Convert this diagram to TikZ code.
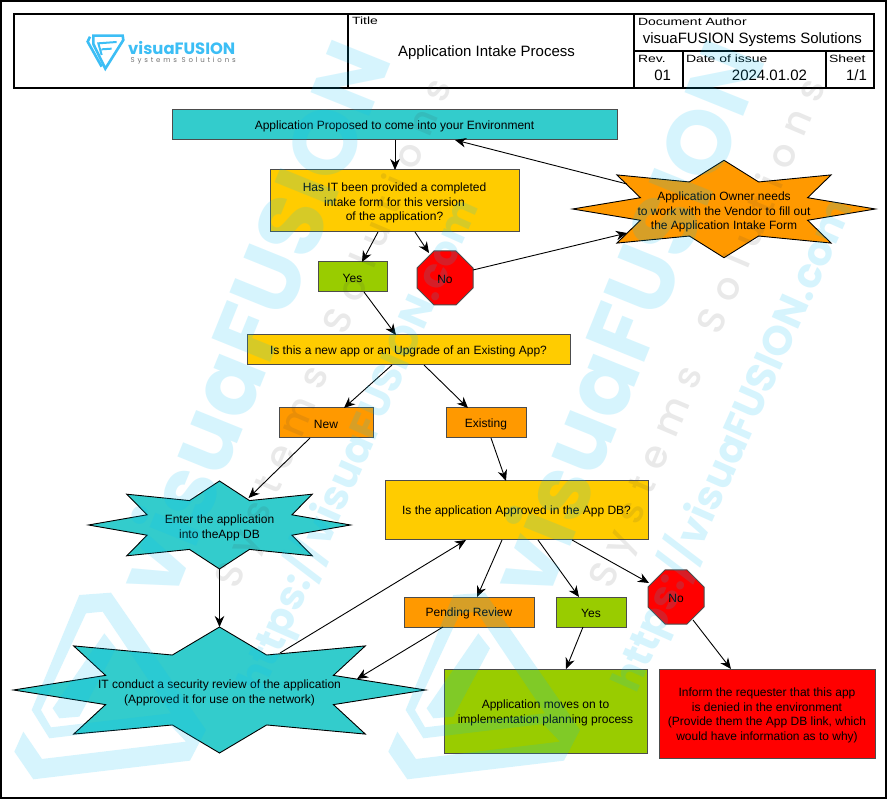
\documentclass[tikz,border=0pt]{standalone}
\usepackage{fontspec}
\usetikzlibrary{arrows.meta,shapes.misc}
\setmainfont{Liberation Sans}
\newfontfamily\wmfont{Poppins}
\newfontfamily\wmmid{Poppins Medium}
\definecolor{teal}{HTML}{33CCCC}
\definecolor{gold}{HTML}{FFCC00}
\definecolor{lime}{HTML}{99CC00}
\definecolor{amber}{HTML}{FF9900}
\definecolor{wmblue}{HTML}{00C0F8}
\definecolor{logoblue}{HTML}{3CBEF5}
\tikzset{
  boxnode/.style={draw=black!70,line width=1pt,outer sep=0pt,inner sep=2pt,align=center,font=\fontsize{12}{14.7}\selectfont,execute at begin node={\rule{0pt}{10.5pt}}},
  octnode/.style={boxnode,chamfered rectangle,chamfered rectangle xsep=16pt,chamfered rectangle ysep=16pt,fill=red,minimum width=56pt,minimum height=54pt},
  burstline/.style={draw=black,line width=0.9pt,line join=miter},
  bursttext/.style={outer sep=0pt,inner sep=0pt,align=center,font=\fontsize{12}{14.7}\selectfont},
  conn/.style={draw=black,line width=0.9pt,-{Stealth[length=11pt,width=9.5pt,inset=3.5pt]}},
  tblabel/.style={inner sep=0pt,outer sep=0pt,font=\fontsize{10.5}{12}\selectfont},
  tbvalue/.style={inner sep=0pt,outer sep=0pt,font=\fontsize{15}{16}\selectfont},
  wmfill/.style={fill=wmblue,draw=none,opacity=.16,even odd rule},
  wmtext/.style={text=wmblue,opacity=.16,inner sep=0pt,outer sep=0pt},
  wmgray/.style={text=black!75,opacity=.115,inner sep=0pt,outer sep=0pt},
}
\newcommand{\dropbox}{\mbox{}\\[-2.1pt]}
\newcommand{\dropburst}{\mbox{}\\[-0.1pt]}
\newcommand{\burst}[7]{%
  \path[burstline,fill=#6] (#2,#3-#5) -- (#2+.229*#4,#3-.555*#5) -- (#2+.708*#4,#3-.70*#5) -- (#2+.553*#4,#3-.232*#5)
   -- (#2+#4,#3) -- (#2+.553*#4,#3+.232*#5) -- (#2+.708*#4,#3+.70*#5) -- (#2+.229*#4,#3+.555*#5)
   -- (#2,#3+#5) -- (#2-.229*#4,#3+.555*#5) -- (#2-.708*#4,#3+.70*#5) -- (#2-.553*#4,#3+.232*#5)
   -- (#2-#4,#3) -- (#2-.553*#4,#3-.232*#5) -- (#2-.708*#4,#3-.70*#5) -- (#2-.229*#4,#3-.555*#5) -- cycle;
  \node[bursttext] (#1) at (#2,#3) {\dropburst #7};}
\newcommand{\wmset}[1]{%
  \begin{scope}[shift={(#1,0)}]
    \node[wmtext,rotate=68,font=\wmfont\bfseries\fontsize{90}{90}\selectfont] (wmbig#1) at (250,318) {visuaFUSION};
    \node[wmgray,rotate=67,font=\wmmid\fontsize{38}{38}\selectfont\addfontfeature{LetterSpace=32}] (wmsub#1) at (336,334) {Systems\hspace{18pt} Solutions};
    \node[wmtext,rotate=66,font=\wmfont\bfseries\fontsize{41}{41}\selectfont] (wmurl#1) at (358,445) {https://visuaFUSION.com};
    \begin{scope}[shift={(-4,570)},x=.3333pt,y=-.3333pt]
      \path[wmfill] (250,75)--(345,68)--(630,480)--(582,572)--(112,628)--(55,545)--(82,485)--(138,567)--(570,515)--(520,462)--(160,505)--(107,420)--cycle
        (270,130)--(320,125)--(525,430)--(165,472)--(135,420)--cycle
        ;
      \path[wmfill] (325,190)--(360,235)--(250,440)--(190,445)--(170,415)--cycle;
    \end{scope}
  \end{scope}}
\begin{document}
\begin{tikzpicture}[x=1pt,y=-1pt]
\useasboundingbox (0,0) rectangle (887,799);
\fill[white] (0,0) rectangle (887,799);
% flow shapes
\node[boxnode,fill=teal,minimum width=445pt,minimum height=30pt] (app) at (394.5,125) {Application Proposed to come into your Environment};
\node[boxnode,fill=gold,minimum width=249pt,minimum height=62pt] (has) at (394.5,201) {\dropbox Has IT been provided a completed\\intake form for this version\\of the application?};
\node[boxnode,fill=lime,minimum width=69pt,minimum height=30pt] (yesa) at (352.5,277) {Yes};
\node[octnode] (noa) at (445,278) {No};
\node[boxnode,fill=gold,minimum width=323pt,minimum height=30pt] (isnew) at (408.5,350) {Is this a new app or an Upgrade of an Existing App?};
\node[boxnode,fill=amber,minimum width=94pt,minimum height=30pt] (new) at (326,423) {New};
\node[boxnode,fill=amber,minimum width=80pt,minimum height=30pt] (existing) at (486,423) {Existing};
\node[boxnode,fill=gold,minimum width=263pt,minimum height=59pt] (appr) at (516.5,510.5) {Is the application Approved in the App DB?};
\node[boxnode,fill=amber,minimum width=130pt,minimum height=30pt] (pend) at (469,612) {Pending Review};
\node[boxnode,fill=lime,minimum width=70pt,minimum height=30pt] (yesb) at (591,612) {Yes};
\node[octnode] (nob) at (676,597) {No};
\node[boxnode,fill=lime,minimum width=203pt,minimum height=84pt] (green) at (545.5,711) {\dropbox Application moves on to\\implementation planning process};
\node[boxnode,fill=red,minimum width=216pt,minimum height=89pt] (deny) at (767,713.5) {\dropbox Inform the requester that this app\\is denied in the environment\\(Provide them the App DB link, which\\would have information as to why)};
\burst{owner}{724}{209}{151.3}{48.7}{amber}{Application Owner needs\\to work with the Vendor to fill out\\the Application Intake Form}
\burst{enter}{219.5}{525}{131}{44}{teal}{Enter the application\\into theApp DB}
\burst{review}{219.5}{690}{206}{63}{teal}{IT conduct a security review of the application\\(Approved it for use on the network)}
% connectors
\draw[conn] ([xshift=223pt]app.south west) -- ([xshift=125pt]has.north west);
\draw[conn] ([xshift=-97pt,yshift=25pt]owner.center) -- ([xshift=283pt]app.south west);
\draw[conn] ([xshift=108pt]has.south west) -- ([xshift=44pt]yesa.north west);
\draw[conn] ([xshift=145pt]has.south west) -- ([xshift=-16pt,yshift=25pt]noa.center);
\draw[conn] ([xshift=28pt,yshift=8pt]noa.center) -- ([xshift=-97pt,yshift=-24pt]owner.center);
\draw[conn] ([xshift=46pt]yesa.south west) -- ([xshift=149pt]isnew.north west);
\draw[conn] ([xshift=145pt]isnew.south west) -- ([xshift=65pt]new.north west);
\draw[conn] ([xshift=177pt]isnew.south west) -- ([xshift=22pt]existing.north west);
\draw[conn] ([xshift=31pt]new.south west) -- ([xshift=29pt,yshift=27pt]enter.center);
\draw[conn] ([xshift=45pt]existing.south west) -- ([xshift=121pt]appr.north west);
\draw[conn] ([yshift=-44pt]enter.center) -- ([yshift=63pt]review.center);
\draw[conn] ([xshift=60.5pt,yshift=37pt]review.center) -- ([xshift=81pt]appr.south west);
\draw[conn] ([xshift=117pt]appr.south west) -- ([xshift=73pt]pend.north west);
\draw[conn] ([xshift=153pt]appr.south west) -- ([xshift=23pt]yesb.north west);
\draw[conn] ([xshift=187pt]appr.south west) -- ([xshift=-27pt,yshift=14pt]nob.center);
\draw[conn] ([xshift=39pt]pend.south west) -- ([xshift=137.5pt,yshift=11pt]review.center);
\draw[conn] ([xshift=27pt]yesb.south west) -- ([xshift=122pt]green.north west);
\draw[conn] ([xshift=17pt,yshift=-23pt]nob.center) -- ([xshift=72pt]deny.north west);
% title block
\draw[line width=1.8pt] (14,14) rectangle (874,88);
\draw[line width=1.2pt] (348,14) -- (348,88) (634,14) -- (634,88) (634,51) -- (874,51) (683,51) -- (683,88) (826,51) -- (826,88);
\node[tblabel,anchor=west] (ltitle) at (352,21) {\scalebox{1.33}[1]{Title}};
\node[tbvalue] (vtitle) at (486.5,53) {Application Intake Process};
\node[tblabel,anchor=west] (lauth) at (638,21.5) {\scalebox{1.33}[1]{Document Author}};
\node[tbvalue,anchor=east] (vauth) at (862,40) {visuaFUSION Systems Solutions};
\node[tblabel,anchor=west] (lrev) at (638,58.5) {\scalebox{1.33}[1]{Rev.}};
\node[tbvalue,anchor=east] (vrev) at (671,75.5) {01};
\node[tblabel,anchor=west] (ldate) at (686,58.5) {\scalebox{1.33}[1]{Date of issue}};
\node[tbvalue,anchor=east] (vdate) at (807,75.5) {2024.01.02};
\node[tblabel,anchor=west] (lsheet) at (829,58.5) {\scalebox{1.33}[1]{Sheet}};
\node[tbvalue,anchor=east] (vsheet) at (867,75.5) {1/1};
% header logo
\begin{scope}[shift={(60,20)},x=.3333pt,y=-.3333pt,line join=miter]
  \draw[logoblue,line width=2.6pt] (90,50)--(83,65)--(125,140);
  \draw[logoblue,line width=2.6pt] (100,47)--(188,47)--(190,60)--(136,146)--(100,72)--cycle;
  \draw[logoblue,line width=2pt] (125,105)--(115,70)--(170,66) (125,88)--(155,86);
\end{scope}
\node[inner sep=0pt,text=logoblue,font=\wmfont\bfseries\fontsize{16.4}{17}\selectfont,anchor=west] (logotext) at (128,48) {visuaFUSION};
\node[inner sep=0pt,text=black!55,font=\wmfont\fontsize{7}{8}\selectfont\addfontfeature{LetterSpace=40},anchor=west] (logosub) at (130.5,61) {Systems Solutions};
% watermark
\begin{scope}
  \clip (0,0) rectangle (887,799);
  \wmset{0}
  \wmset{374}
\end{scope}
% page frame
\draw[line width=1.6pt] (0.8,0.8) rectangle (886.2,797.8);
\end{tikzpicture}
\end{document}
